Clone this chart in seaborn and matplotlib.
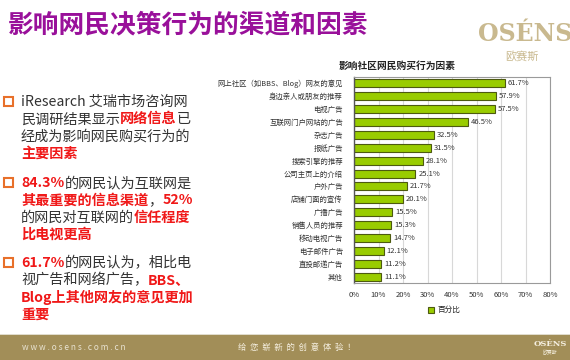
import seaborn as sns
import matplotlib.pyplot as plt
import matplotlib.patches as mpatches
import pandas as pd

# data
factors = ['网上社区（如BBS、Blog）网友的意见', '身边亲人或朋友的推荐', '电视广告',
           '互联网门户网站的广告', '杂志广告', '报纸广告', '搜索引擎的推荐',
           '公司主页上的介绍', '户外广告', '店铺门面的宣传', '广播广告',
           '销售人员的推荐', '移动电视广告', '电子邮件广告', '直投邮递广告', '其他']
percent = [61.7, 57.9, 57.5, 46.5, 32.5, 31.5, 28.1, 25.1, 21.7, 20.1,
           15.5, 15.3, 14.7, 12.1, 11.2, 11.1]
xticks = [0, 10, 20, 30, 40, 50, 60, 70, 80]

df = pd.DataFrame({'factor': factors, 'pct': percent})

sns.set_theme(style='white')
plt.rcParams['font.family'] = ['Noto Sans CJK SC', 'DejaVu Sans']

W, H = 570, 360
fig = plt.figure(figsize=(W / 100, H / 100), dpi=100)
fig.patch.set_facecolor('white')
renderer = fig.canvas.get_renderer()


def fx(px):
    return px / W


def fy(py):
    return 1 - py / H


# title
fig.text(fx(8), fy(25), '影响网民决策行为的渠道和因素', color='#99109a', fontsize=18.5,
         weight='bold', va='center', ha='left')

# logo
fig.text(fx(478), fy(34), 'OSÉNS', color='#c9b98f', fontsize=17, weight='bold',
         family='DejaVu Serif', va='center', ha='left')
fig.text(fx(522), fy(56), '欧赛斯', color='#c9b98f', fontsize=8, va='center', ha='center')


# left bullet text with mixed colours
RED = '#f01818'
BLK = '#333333'


def text_line(x, y, parts, size=10.2):
    for s, col in parts:
        t = fig.text(fx(x), fy(y), s, color=col, fontsize=size, va='center', ha='left',
                     weight='bold' if col == RED else 'normal')
        x += t.get_window_extent(renderer).width


bullets = [
    (102, [[('iResearch 艾瑞市场咨询网', BLK)],
           [('民调研结果显示', BLK), ('网络信息', RED), ('已', BLK)],
           [('经成为影响网民购买行为的', BLK)],
           [('主要因素', RED)]]),
    (183, [[('84.3%', RED), ('的网民认为互联网是', BLK)],
           [('其最重要的信息渠道', RED), ('，', BLK), ('52%', RED)],
           [('的网民对互联网的', BLK), ('信任程度', RED)],
           [('比电视更高', RED)]]),
    (263, [[('61.7%', RED), ('的网民认为，相比电', BLK)],
           [('视广告和网络广告，', BLK), ('BBS、', RED)],
           [('Blog上其他网友的意见更加', RED)],
           [('重要', RED)]]),
]
for y0, lines in bullets:
    fig.add_artist(mpatches.Rectangle((fx(4), fy(y0 + 4)), fx(9), 9 / H, fill=False,
                                      edgecolor='#e8702a', linewidth=1.5,
                                      transform=fig.transFigure))
    for i, parts in enumerate(lines):
        text_line(21, y0 + i * 17.3, parts)

# bar chart
ax = fig.add_axes([fx(354), fy(283), fx(550 - 354), (283 - 77) / H])
sns.barplot(data=df, x='pct', y='factor', color='#99cc00', edgecolor='#4d5a10',
            linewidth=0.8, width=0.62, saturation=1, ax=ax, orient='h', label='百分比')
ax.set_xlim(0, 80)
ax.set_ylim(15.47, -0.47)
ax.set_xticks(xticks)
ax.set_xticklabels([f'{v}%' for v in xticks], fontsize=5.5, color='#333333')
ax.tick_params(axis='y', labelsize=5.3, colors='#333333', pad=8, length=0)
ax.tick_params(axis='x', pad=6, length=0)
ax.set_xlabel('')
ax.set_ylabel('')
ax.grid(axis='x', color='#d8d8d8', linewidth=0.8)
ax.set_axisbelow(True)
for side in ['top', 'right', 'bottom']:
    ax.spines[side].set_color('#9a9a9a')
    ax.spines[side].set_linewidth(0.8)
ax.spines['left'].set_color('#555555')
ax.spines['left'].set_linewidth(1.0)

for i, v in enumerate(percent):
    ax.text(v + 1.2, i, f'{v}%', fontsize=5.5, va='center', ha='left', color='#333333')

fig.text(fx(397), fy(66), '影响社区网民购买行为因素', fontsize=7, weight='bold',
         color='#222222', ha='center', va='center')

leg = ax.legend(loc='upper center', bbox_to_anchor=(0.46, -0.08), frameon=False,
                fontsize=5.5, handlelength=0.8, handleheight=0.8, handletextpad=0.5)

# footer band
fig.add_artist(mpatches.Rectangle((0, 0), 1, 25 / H, facecolor='#a28e58', edgecolor='none',
                                  transform=fig.transFigure))
fig.add_artist(mpatches.Rectangle((0, 25 / H), 1, 1.5 / H, facecolor='#e0dccd',
                                  edgecolor='none', transform=fig.transFigure))
fig.text(fx(22), fy(348), 'w w w . o s e n s . c o m . c n', color='#e8e2d0', fontsize=6,
         va='center', ha='left')
fig.text(fx(238), fy(347), '给  您  崭  新  的  创  意  体  验  ！', color='#f5efe0',
         fontsize=6, va='center', ha='left')
fig.text(fx(550), fy(344), 'OSÉNS', color='#f5efe0', fontsize=6, weight='bold',
         family='DejaVu Serif', va='center', ha='center')
fig.text(fx(550), fy(352), '欧赛斯', color='#f5efe0', fontsize=3.5, va='center', ha='center')

fig.savefig('out.png', dpi=100)
